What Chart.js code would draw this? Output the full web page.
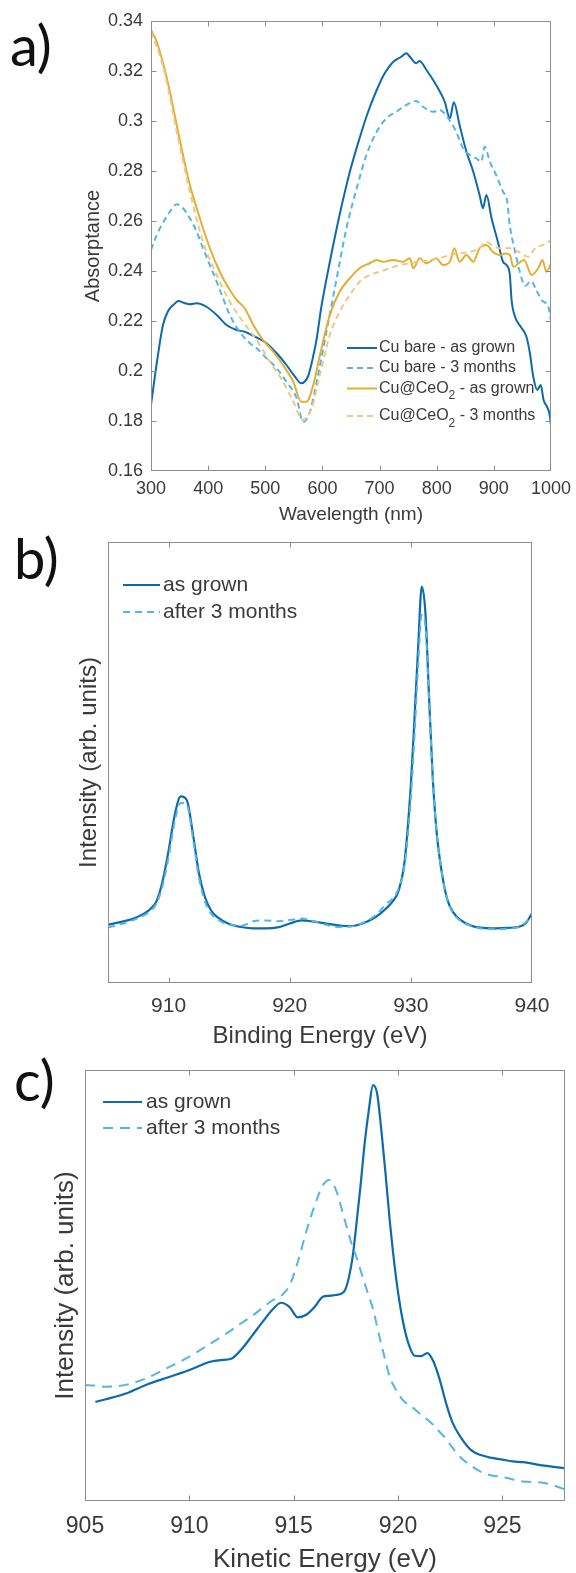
<!DOCTYPE html>
<html><head><meta charset="utf-8">
<script src="https://cdn.jsdelivr.net/npm/chart.js@4.4.1/dist/chart.umd.min.js"></script>
<style>
html,body{margin:0;padding:0;background:#fff;width:576px;height:1573px;overflow:hidden;position:relative}
canvas{position:absolute;left:0}
.lbl{position:absolute;font-family:Lato,'Open Sans',sans-serif;font-size:56px;line-height:56px;color:#111}
</style></head><body>
<div class="lbl" style="left:10px;top:17px">a)</div>
<div class="lbl" style="left:14px;top:530px">b)</div>
<div class="lbl" style="left:14px;top:1052px">c)</div>
<canvas id="ca" width="576" height="530" style="top:0px"></canvas>
<canvas id="cb" width="576" height="520" style="top:530px"></canvas>
<canvas id="cc" width="576" height="523" style="top:1050px"></canvas>
<script>
// ---------- Panel a: absorptance vs wavelength ----------
const aXTicks = [300, 1000, 100];
const aYTicks = [0.16, 0.34, 0.02];
const aCuBareGrownX = [300,310,321,330,339,348,358,368,380,397,415,432,450,464,482,502,520,537,552,563,575,583,590,598,613,630,648,665,680,695,709,724,738,747,753,764,770,782,799,814,823,830,840,852,864,875,881,887,896,907,916,922,928,931,937,947,957,963,969,976,982,987,993,997,1000];
const aCuBareGrownY = [0.1864,0.203,0.2184,0.224,0.2264,0.228,0.2272,0.2267,0.2271,0.2257,0.2224,0.2184,0.2164,0.2157,0.2137,0.2111,0.2071,0.2024,0.1977,0.1951,0.198,0.205,0.213,0.2255,0.2437,0.2624,0.2797,0.2931,0.3037,0.3124,0.3191,0.3237,0.3257,0.3271,0.3257,0.3231,0.324,0.3204,0.3144,0.3077,0.3011,0.3075,0.2984,0.2877,0.2797,0.2704,0.2651,0.2704,0.2611,0.2517,0.2437,0.2424,0.2384,0.2284,0.2217,0.2177,0.2137,0.2072,0.1977,0.1924,0.1944,0.1884,0.1857,0.1832,0.1784];
const aCuBare3mX = [300,310,322,333,345,356,368,380,391,403,415,426,438,455,473,485,502,520,537,555,566,578,590,607,625,642,660,677,695,712,729,747,764,776,794,805,820,834,846,858,869,878,884,893,904,916,923,928,935,945,955,965,975,985,995,1000];
const aCuBare3mY = [0.2484,0.2544,0.2597,0.2637,0.2667,0.2651,0.2611,0.2557,0.2491,0.2424,0.2357,0.2291,0.2224,0.2157,0.2111,0.2091,0.2051,0.2011,0.1957,0.1891,0.1797,0.1837,0.1957,0.2157,0.2371,0.2571,0.2731,0.2864,0.2957,0.3011,0.3037,0.3064,0.308,0.3057,0.3037,0.3044,0.3011,0.2957,0.2891,0.2864,0.2851,0.2837,0.2897,0.2837,0.2784,0.2717,0.2684,0.258,0.25,0.24,0.234,0.236,0.232,0.228,0.226,0.22];
const aCeO2GrownX = [300,310,322,333,345,356,368,380,391,403,415,426,438,450,464,479,496,514,531,549,563,572,584,595,613,630,648,665,683,695,706,724,741,753,759,770,782,799,811,823,831,840,852,864,875,887,898,910,921,928,934,953,966,979,985,992,1000];
const aCeO2GrownY = [0.3364,0.3317,0.3224,0.3117,0.2984,0.2864,0.2744,0.2651,0.2571,0.2491,0.2424,0.2371,0.2324,0.2284,0.2251,0.2184,0.2124,0.2077,0.2024,0.1957,0.1877,0.1877,0.1944,0.2057,0.2224,0.2317,0.2371,0.2411,0.2431,0.2444,0.2437,0.2444,0.2437,0.2451,0.2411,0.2451,0.2431,0.2451,0.2424,0.2437,0.2491,0.2437,0.2464,0.2437,0.2491,0.2504,0.2477,0.2464,0.247,0.2464,0.2417,0.2444,0.2384,0.2417,0.2444,0.2397,0.243];
const aCeO23mX = [300,322,345,368,391,415,438,461,485,508,531,549,566,581,595,613,630,648,665,683,700,718,735,753,770,788,805,823,840,858,875,887,896,910,928,945,960,972,992,1000];
const aCeO23mY = [0.3357,0.3211,0.2957,0.2717,0.2517,0.2384,0.2277,0.2197,0.2124,0.2037,0.1957,0.1877,0.1804,0.1851,0.198,0.2144,0.2237,0.2304,0.2357,0.2384,0.2397,0.2411,0.2424,0.2431,0.2437,0.2444,0.2451,0.2464,0.2471,0.2477,0.2491,0.2517,0.2504,0.2491,0.2491,0.2475,0.2457,0.249,0.251,0.2524];
const aLabels = ['Cu bare - as grown','Cu bare - 3 months','Cu@CeO₂ - as grown','Cu@CeO₂ - 3 months'];

// ---------- Panel b: XPS binding energy ----------
const bXTicks = [905, 940, 10];
const bEnergy = [905,906,907,908,908.5,909,909.5,910,910.5,911,911.5,912,912.5,913,913.5,914,915,916,917,918,919,920,921,922,923,924,925,926,927,927.5,928,928.5,929,929.5,930,930.3,930.6,930.9,931.2,931.5,931.8,932.1,932.5,933,933.5,934,935,936,937,938,939,939.5,940];
const bAsGrown = [13.2,13.8,14.5,15.8,16.8,18.5,23,30,38,42.3,41.5,34,25,19.5,16.5,15,13.4,12.7,12.4,12.4,12.6,13.5,14.2,13.9,13.5,13.1,12.9,13.5,14.8,15.8,17,18.5,21,28,45,60,76,89.9,84,65,47,35,26,19,16,14.5,13,12.5,12.4,12.5,12.8,13.6,15.8];
const bAfter3m = [12.6,13.3,14.2,15.4,16.3,18,22,28.5,36.5,40.8,40.5,33,24,18.5,15.8,14.5,13.2,13.0,14.0,14.2,14.0,14.3,14.6,14.0,13.2,12.7,12.8,13.6,15.2,16.5,18.0,19.2,21.5,27,42,56,72,83.5,81,64,47,35,26,19,15.8,14.3,12.9,12.3,12.2,12.3,12.8,13.8,15.5];
const bcLabels = ['as grown','after 3 months'];

// ---------- Panel c: Auger kinetic energy ----------
const cXTicks = [905, 928, 5];
const cEnergy = [905,905.5,906,907,908,909,910,911,911.5,912,912.5,913,913.5,914,914.4,914.8,915.2,915.6,916,916.4,916.7,917,917.4,917.8,918,918.2,918.4,918.6,918.8,919,919.2,919.4,919.6,919.9,920.2,920.5,920.8,921.1,921.4,921.7,922,922.3,922.6,923,923.5,924,924.5,925,925.5,926,927,928];
const cAsGrown = [null,23.0,23.6,25.0,27.1,28.7,30.4,32.3,32.7,33.0,35.2,38.3,41.5,44.5,46.0,45.0,42.6,43.2,45.0,47.4,47.6,47.8,48.5,55.9,64,73,83,90.7,96.5,94.5,86,76,65.2,52.0,42.5,36.5,33.7,33.6,34.3,32.3,28.1,22.7,18.3,14.8,11.8,10.6,10.0,9.6,9.2,9.0,8.2,7.6];
const cAfter3m = [26.9,26.8,26.5,27.0,28.6,31.0,33.5,36.5,38.0,39.6,41.3,42.9,44.8,46.6,47.6,50.0,55.5,62.5,68.5,73.3,74.5,72.5,66.0,59.3,56.7,53.6,50.5,47.5,44.6,40.4,36.3,32.5,28.8,25.8,23.6,22.3,21.3,20.0,18.9,17.6,16.0,14.4,12.4,10.1,8.2,6.7,5.9,5.6,5.0,4.5,4.2,2.7];

// ---------- drawing helpers ----------
const FONT = "'Liberation Sans', Arial, Helvetica, sans-serif";
const TEXT = '#3a3a3a';
const BOX = '#8e8e8e';
const C_DARK = '#0d6aad';
const C_LIGHT = '#55b6e2';
const C_YEL = '#e3ae33';
const C_YEL_L = '#ecc987';

function pts(xs, ys){ return xs.map((x,i)=>({x:x, y:ys[i]})); }
function ds(label, xs, ys, color, dash, order, w){
  return {label, data: pts(xs, ys), borderColor: color, borderWidth: w||2, borderDash: dash,
    pointRadius: 0, tension: 0.4, cubicInterpolationMode: 'monotone', fill: false, order, spanGaps: false};
}

const boxPlugin = {
  id: 'boxTicks',
  afterDatasetsDraw(chart, args, o){
    const {ctx, chartArea: a, scales} = chart;
    ctx.save();
    ctx.strokeStyle = BOX; ctx.lineWidth = 1; ctx.setLineDash([]);
    const L = Math.round(a.left)+0.5, R = Math.round(a.right)-0.5, T = Math.round(a.top)+0.5, B = Math.round(a.bottom)-0.5;
    ctx.strokeRect(L, T, R-L, B-T);
    ctx.beginPath();
    const len = o.len || 5;
    if (o.x) scales.x.ticks.forEach(t=>{
      const p = Math.round(scales.x.getPixelForValue(t.value))+0.5;
      if (p <= L+1 || p >= R-1) return;
      ctx.moveTo(p, B); ctx.lineTo(p, B-len); ctx.moveTo(p, T); ctx.lineTo(p, T+len);
    });
    if (o.y) scales.y.ticks.forEach(t=>{
      const p = Math.round(scales.y.getPixelForValue(t.value))+0.5;
      if (p <= T+1 || p >= B-1) return;
      ctx.moveTo(L, p); ctx.lineTo(L+len, p); ctx.moveTo(R, p); ctx.lineTo(R-len, p);
    });
    ctx.stroke();
    ctx.restore();
  }
};

const legendPlugin = {
  id: 'customLegend',
  afterDraw(chart, args, o){
    const {ctx, chartArea: a} = chart;
    ctx.save();
    const main = o.size + 'px ' + FONT, sub = Math.round(o.size*0.72) + 'px ' + FONT;
    chart.data.datasets.forEach((d, i)=>{
      const y = a.top + o.rows[i];
      ctx.strokeStyle = d.borderColor; ctx.lineWidth = d.borderWidth;
      ctx.setLineDash(d.borderDash || []);
      ctx.beginPath(); ctx.moveTo(a.left + o.x0, y); ctx.lineTo(a.left + o.x1, y); ctx.stroke();
      ctx.setLineDash([]);
      ctx.fillStyle = TEXT; ctx.textBaseline = 'middle'; ctx.textAlign = 'left';
      let x = a.left + o.tx;
      const parts = d.label.split('₂');
      parts.forEach((p, k)=>{
        ctx.font = main; ctx.fillText(p, x, y); x += ctx.measureText(p).width;
        if (k < parts.length-1){
          ctx.font = sub; ctx.fillText('2', x, y + o.size*0.45); x += ctx.measureText('2').width;
        }
      });
    });
    ctx.restore();
  }
};

function makeChart(id, datasets, c){
  return new Chart(document.getElementById(id), {
    type: 'line',
    data: {datasets},
    options: {
      responsive: false, animation: false, devicePixelRatio: 1, events: [],
      layout: {padding: c.padding},
      plugins: {legend: {display: false}, tooltip: {enabled: false},
        customLegend: c.legend, boxTicks: c.box},
      scales: {
        x: {type: 'linear', min: c.xt[0], max: c.xt[1],
          grid: {display: false, drawTicks: false}, border: {display: false},
          ticks: {stepSize: c.xt[2], includeBounds: false, padding: c.xPad, color: TEXT, maxRotation: 0, autoSkip: false,
            font: {family: FONT, size: c.xTickSize, lineHeight: 1},
            callback: v => String(v)},
          title: {display: true, text: c.xTitle, color: TEXT, font: {family: FONT, size: c.xTitleSize, lineHeight: 1},
            padding: {top: 0, bottom: c.xTitlePad}},
          afterFit(s){ s.height = c.xH; s.paddingLeft = 0; s.paddingRight = 0; }
        },
        y: {type: 'linear', min: c.yt[0], max: c.yt[1],
          grid: {display: false, drawTicks: false}, border: {display: false},
          ticks: {display: c.yTicks, stepSize: c.yt[2], padding: 8, color: TEXT, autoSkip: false,
            font: {family: FONT, size: c.yTickSize || 18, lineHeight: 1},
            callback: v => Number(v.toFixed(2)).toString()},
          title: {display: true, text: c.yTitle, color: TEXT, font: {family: FONT, size: c.yTitleSize, lineHeight: 1},
            padding: {top: c.yTitlePad, bottom: 0}},
          afterFit(s){ s.width = c.yW; s.paddingTop = 0; s.paddingBottom = 0; }
        }
      }
    },
    plugins: [boxPlugin, legendPlugin]
  });
}

// Panel a
makeChart('ca', [
  ds(aLabels[0], aCuBareGrownX, aCuBareGrownY, C_DARK, [], 4),
  ds(aLabels[1], aCuBare3mX, aCuBare3mY, C_LIGHT, [6,4], 3),
  ds(aLabels[2], aCeO2GrownX, aCeO2GrownY, C_YEL, [], 2),
  ds(aLabels[3], aCeO23mX, aCeO23mY, C_YEL_L, [6,4], 1)
], {
  padding: {left: 0, right: 25, top: 21, bottom: 0},
  xt: aXTicks, yt: aYTicks, yTicks: true,
  xPad: 9, xTickSize: 18, xTitle: 'Wavelength (nm)', xTitleSize: 19, xTitlePad: 5.5, xH: 59,
  yTitle: 'Absorptance', yTitleSize: 20, yTitlePad: 83, yW: 151,
  box: {x: true, y: true, len: 5},
  legend: {size: 16, rows: [327, 347, 367.5, 395], x0: 196, x1: 226, tx: 228}
});

// Panel b
makeChart('cb', [
  ds(bcLabels[0], bEnergy, bAsGrown, C_DARK, [], 2, 2.2),
  ds(bcLabels[1], bEnergy, bAfter3m, C_LIGHT, [7,5], 1)
], {
  padding: {left: 0, right: 44, top: 12, bottom: 0},
  xt: bXTicks, yt: [0, 100, 20], yTicks: false,
  xPad: 13, xTickSize: 21, xTitle: 'Binding Energy (eV)', xTitleSize: 24, xTitlePad: 1.5, xH: 67,
  yTitle: 'Intensity (arb. units)', yTitleSize: 24, yTitlePad: 77, yW: 108,
  box: {x: true, y: false, len: 5},
  legend: {size: 21, rows: [43, 70], x0: 15, x1: 52, tx: 55}
});

// Panel c
makeChart('cc', [
  ds(bcLabels[0], cEnergy, cAsGrown, C_DARK, [], 2, 2.2),
  ds(bcLabels[1], cEnergy, cAfter3m, C_LIGHT, [10,7], 1)
], {
  padding: {left: 0, right: 11, top: 20, bottom: 0},
  xt: cXTicks, yt: [0, 100, 20], yTicks: false,
  xPad: 14, xTickSize: 23, xTitle: 'Kinetic Energy (eV)', xTitleSize: 26, xTitlePad: 0, xH: 72,
  yTitle: 'Intensity (arb. units)', yTitleSize: 26, yTitlePad: 53, yW: 85,
  box: {x: true, y: false, len: 5},
  legend: {size: 21, rows: [32, 58], x0: 18, x1: 57, tx: 61}
});
</script>
</body></html>
